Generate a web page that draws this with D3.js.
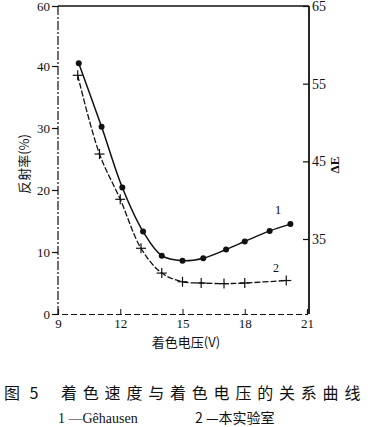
<!DOCTYPE html>
<html><head><meta charset="utf-8">
<script src="https://cdn.jsdelivr.net/npm/d3@7"></script>
<style>
body{margin:0;background:#fff;}
text{font-family:"Liberation Serif","DejaVu Serif","Noto Sans CJK SC",serif;fill:#111;}
.cjk{font-family:"Noto Sans CJK SC","Noto Sans CJK JP",sans-serif;}
</style></head>
<body><svg id="c" width="371" height="427"></svg>
<script>
const voltage1 = [10, 11.1, 12.1, 13.1, 14, 15, 16, 17.1, 18, 19.2, 20.2];
const reflect1 = [40.9, 30.2, 20.4, 13.3, 9.4, 8.6, 9.0, 10.4, 11.7, 13.4, 14.5];
const voltage2 = [9.95, 11, 12, 13, 14, 15, 15.9, 17, 18, 20];
const reflect2 = [38.5, 25.8, 18.5, 10.6, 6.6, 5.2, 5.0, 4.9, 5.0, 5.4];
const xTicks = [9, 12, 15, 18, 21];
const leftTicks = [0, 10, 20, 30, 40, 60];
const rightTicks = [35, 45, 55, 65];

const svg = d3.select("#c");
const x = d3.scaleLinear().domain([9, 21]).range([58, 307]);
const y = d3.scaleLinear().domain([0, 40, 60]).range([314, 66, 6]);
const yR = d3.scaleLinear().domain([35, 65]).range([239, 6]);

// frame
svg.append("line").attr("x1",58).attr("x2",309).attr("y1",6).attr("y2",6)
  .attr("stroke","#111").attr("stroke-width",1.6);
svg.append("line").attr("x1",58).attr("x2",58).attr("y1",6).attr("y2",314)
  .attr("stroke","#111").attr("stroke-width",1.2).attr("stroke-dasharray","9,2,2,2");
svg.append("line").attr("x1",309).attr("x2",309).attr("y1",6).attr("y2",314)
  .attr("stroke","#111").attr("stroke-width",1.8);

// bottom axis
const gx = svg.append("g").attr("transform","translate(0,314)")
  .call(d3.axisBottom(x).tickValues(xTicks).tickSize(-5).tickPadding(5).tickFormat(d3.format("d")));
gx.select(".domain").attr("stroke","#111").attr("stroke-width",1.2).attr("stroke-dasharray","6,3");
gx.selectAll(".tick line").attr("stroke","#111");
gx.selectAll("text").attr("font-size",13).attr("font-family","Liberation Serif, serif").attr("fill","#111");

// left axis
const gl = svg.append("g").attr("transform","translate(58,0)")
  .call(d3.axisLeft(y).tickValues(leftTicks).tickSize(6).tickPadding(2).tickFormat(d3.format("d")));
gl.select(".domain").remove();
gl.selectAll(".tick line").attr("stroke","#111").attr("stroke-width",1.2);
gl.selectAll("text").attr("font-size",13).attr("font-family","Liberation Serif, serif").attr("fill","#111");

// right axis
const gr = svg.append("g").attr("transform","translate(309,0)")
  .call(d3.axisRight(yR).tickValues(rightTicks).tickSize(-6).tickPadding(3).tickFormat(d3.format("d")));
gr.select(".domain").remove();
gr.selectAll(".tick line").attr("stroke","#111").attr("stroke-width",1.2);
gr.selectAll("text").attr("font-size",14).attr("font-family","Liberation Serif, serif").attr("fill","#111");

// axis titles
svg.append("text").attr("class","cjk").attr("transform","translate(29,164) rotate(-90)")
  .attr("text-anchor","middle").attr("font-size",13).text("反射率(%)");
svg.append("text").attr("transform","translate(339,165) rotate(-90)")
  .attr("text-anchor","middle").attr("font-size",13).attr("font-weight","bold").attr("font-family","DejaVu Sans, sans-serif").text("ΔE");
svg.append("text").attr("class","cjk").attr("x",186).attr("y",347)
  .attr("text-anchor","middle").attr("font-size",13).text("着色电压(V)");

// curves
const d1 = voltage1.map((v,i)=>[v, reflect1[i]]);
const d2 = voltage2.map((v,i)=>[v, reflect2[i]]);
const line = d3.line().x(d=>x(d[0])).y(d=>y(d[1])).curve(d3.curveCatmullRom.alpha(0.5));
svg.append("path").attr("d",line(d1)).attr("fill","none").attr("stroke","#111").attr("stroke-width",1.5);
svg.append("path").attr("d",line(d2)).attr("fill","none").attr("stroke","#111").attr("stroke-width",1.3)
  .attr("stroke-dasharray","6,2");

svg.selectAll(".dot").data(d1).enter().append("circle")
  .attr("cx",d=>x(d[0])).attr("cy",d=>y(d[1])).attr("r",3).attr("fill","#111");
const cr = svg.selectAll(".cross").data(d2).enter().append("g")
  .attr("transform",d=>`translate(${x(d[0])},${y(d[1])})`);
cr.append("line").attr("x1",-5).attr("x2",5).attr("stroke","#111").attr("stroke-width",1.2);
cr.append("line").attr("y1",-5).attr("y2",5).attr("stroke","#111").attr("stroke-width",1.2);

// series labels
svg.append("text").attr("x",x(19.6)).attr("y",y(16.2)).attr("text-anchor","middle").attr("font-size",13).text("1");
svg.append("text").attr("x",x(19.5)).attr("y",y(6.7)).attr("text-anchor","middle").attr("font-size",12).text("2");

// caption
svg.append("text").attr("class","cjk").attr("x",4).attr("y",399).attr("font-size",16)
  .attr("letter-spacing","3px").text("图 5");
svg.append("text").attr("class","cjk").attr("x",61).attr("y",399).attr("font-size",16)
  .attr("letter-spacing","5.8px").text("着色速度与着色电压的关系曲线");
svg.append("text").attr("x",58).attr("y",423).attr("font-size",14).attr("font-family","DejaVu Sans, sans-serif").text("1 —Gêhausen");
svg.append("text").attr("class","cjk").attr("x",195).attr("y",423).attr("font-size",14).text("2 —本实验室");
</script></body></html>
